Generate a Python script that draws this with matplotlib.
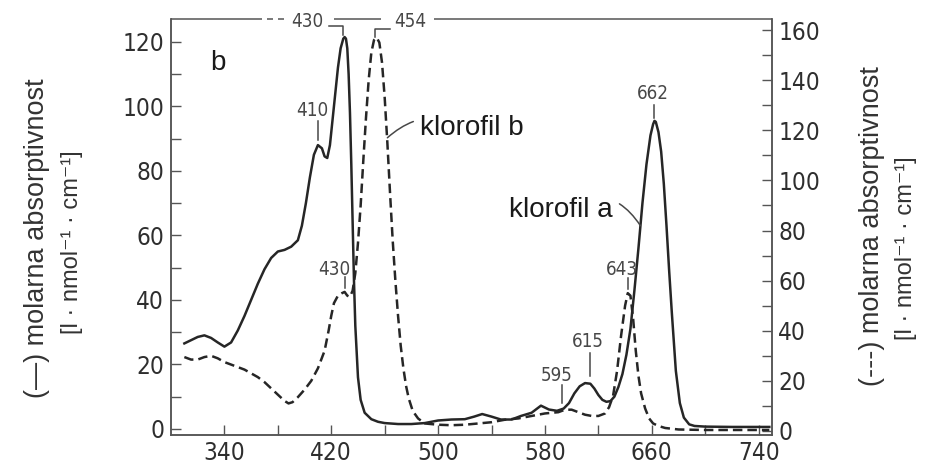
import numpy as np
import matplotlib
matplotlib.use("Agg")
import matplotlib.pyplot as plt
from matplotlib.font_manager import FontProperties

# Absorption spectra of chlorophyll a (left axis) and chlorophyll b (right axis)
wl_a = [310, 315, 320, 325, 330, 335, 340, 345, 350, 355, 360, 365, 370, 375,
        380, 385, 390, 395, 398, 401, 404, 407, 410, 413, 415, 417, 419, 421,
        423, 425, 427, 429, 430, 431, 432, 433, 434, 435, 436, 437, 438, 440,
        442, 445, 450, 455, 460, 470, 480, 490, 500, 510, 520, 527, 533, 540,
        547, 555, 562, 570, 577, 583, 589, 594, 598, 602, 606, 610, 614, 617,
        620, 623, 626, 629, 632, 635, 638, 641, 644, 647, 650, 653, 656, 659,
        661, 662, 663, 665, 667, 669, 671, 673, 675, 678, 681, 684, 688, 692,
        700, 720, 748]
abs_a = [26.5, 27.5, 28.5, 29.0, 28.2, 26.8, 25.5, 26.8, 30.5, 35.0, 40.0,
         45.0, 49.5, 53.0, 55.0, 55.5, 56.5, 58.5, 63.0, 70.0, 78.0, 85.0,
         88.0, 87.0, 84.5, 84.0, 88.0, 96.0, 104.0, 112.0, 118.0, 121.0,
         121.5, 121.0, 118.0, 110.0, 98.0, 82.0, 64.0, 46.0, 32.0, 16.0, 9.0,
         5.0, 3.0, 2.2, 1.8, 1.5, 1.5, 1.8, 2.6, 2.9, 3.0, 3.8, 4.6, 3.8, 2.9,
         2.9, 4.0, 5.0, 7.2, 6.0, 5.6, 6.3, 8.0, 11.0, 13.2, 14.2, 14.0, 12.5,
         10.5, 9.0, 8.4, 8.6, 10.0, 13.0, 17.0, 23.0, 31.0, 43.0, 56.0, 70.0,
         82.0, 91.0, 94.5, 95.5, 95.2, 92.0, 86.0, 76.0, 63.0, 49.0, 36.0, 18.0,
         8.0, 3.5, 1.4, 0.9, 0.7, 0.6, 0.6]

wl_b = [310, 315, 320, 325, 330, 335, 340, 345, 350, 355, 360, 365, 370, 375,
        380, 385, 388, 391, 395, 400, 405, 410, 415, 418, 420, 422, 425, 428,
        430, 432, 434, 436, 438, 440, 442, 444, 446, 448, 450, 452, 454, 456,
        458, 460, 462, 464, 466, 468, 470, 472, 474, 476, 478, 481, 485, 490,
        500, 510, 520, 530, 540, 550, 560, 570, 580, 590, 595, 600, 605, 610,
        615, 620, 625, 628, 631, 634, 637, 640, 642, 644, 646, 648, 650, 652,
        655, 658, 661, 665, 670, 680, 700, 748]
abs_b = [29.5, 28.5, 28.5, 29.5, 30.0, 29.0, 27.5, 26.5, 25.5, 24.5, 23.0,
         21.5, 19.5, 17.0, 14.5, 12.0, 11.0, 11.5, 13.5, 16.5, 20.0, 25.0,
         32.0, 40.0, 46.0, 51.0, 54.0, 55.0, 55.5, 54.0, 53.5, 56.0, 63.0,
         75.0, 90.0, 108.0, 125.0, 140.0, 151.0, 156.0, 157.0, 155.0, 147.0,
         133.0, 115.0, 95.0, 76.0, 60.0, 46.0, 34.0, 25.0, 18.0, 13.0, 8.0,
         5.0, 3.0, 2.5, 2.3, 2.5, 3.0, 3.5, 4.5, 5.0, 6.0, 7.0, 7.5, 8.5, 8.5,
         7.5, 6.5, 6.0, 6.0, 7.0, 9.5, 14.0, 24.0, 38.0, 50.0, 55.0, 54.0,
         45.0, 32.0, 22.0, 15.0, 9.0, 5.0, 3.0, 2.0, 1.2, 0.6, 0.4, 0.4]

x_ticks = [340, 420, 500, 580, 660, 740]
x_minor = [380, 460, 540, 620, 700]
left_ticks = [0, 20, 40, 60, 80, 100, 120]
right_ticks = [0, 20, 40, 60, 80, 100, 120, 140, 160]

# peak labels of chlorophyll a: (label, wavelength)
peaks_a = [("410", 410), ("662", 662), ("615", 614), ("595", 593)]
# peak labels of chlorophyll b
peaks_b = [("643", 642), ("430", 430)]

# leader layout per label: (tick start, tick end, text bottom, text x shift)
leader_a = {"410": (1.5, 7.5, 7.8, -4.0), "662": (1.0, 4.8, 5.4, -1.5),
            "615": (2.5, 9.5, 10.2, -1.5), "595": (2.0, 7.5, 7.5, -4.5)}
leader_b = {"643": (1.5, 6.0, 5.5, -4.5), "430": (1.5, 6.0, 5.0, -7.5)}

INK = "#262626"
GRAY = "#484848"
TXT = ["Liberation Sans", "DejaVu Sans"]
tick_fp = FontProperties(family="DejaVu Sans", stretch="condensed", size=17.5)
num_fp = FontProperties(family="DejaVu Sans", stretch="condensed", size=13.5)

fig = plt.figure(figsize=(9.25, 4.68), dpi=100)
W, H = 925, 468
ax = fig.add_axes([171 / W, 1 - 435 / H, 601 / W, 416 / H])
ax2 = ax.twinx()

ax.set_xlim(300, 750)
ax.set_ylim(-1.9, 127.1)
ax2.set_ylim(-1.6, 164.4)

ax.plot(wl_a, abs_a, color=INK, lw=1.8, solid_joinstyle="round")
ax2.plot(wl_b, abs_b, color=INK, lw=1.8, linestyle=(0, (3.8, 2.0)))

# axes frame
for a in (ax, ax2):
    for s in a.spines.values():
        s.set_color("#555555")
        s.set_linewidth(1.1)
    a.spines["top"].set_visible(False)

ax.set_xticks(x_ticks)
ax.set_xticks(x_minor, minor=True)
ax.set_yticks(left_ticks)
ax.set_yticks(np.arange(10, 130, 20), minor=True)
ax2.set_yticks(right_ticks)
ax2.set_yticks(np.arange(10, 170, 20), minor=True)
ax.tick_params(axis="both", which="both", direction="in", length=7.5,
               width=1.0, color="#555555", labelcolor="#2e2e2e")
ax.tick_params(axis="y", which="both", left=True, right=False, pad=5)
ax.tick_params(axis="x", which="both", top=False, pad=4)
ax2.tick_params(axis="y", which="both", direction="in", length=7.5,
                width=1.0, color="#555555", labelcolor="#2e2e2e", pad=4.5)
for lab in ax.get_xticklabels() + ax.get_yticklabels() + ax2.get_yticklabels():
    lab.set_fontproperties(tick_fp)

# top border, broken around the peak labels
top_segments = [(0.0, 0.151), (0.160, 0.170), (0.178, 0.188),
                (0.272, 0.350), (0.437, 1.0)]
for x0, x1 in top_segments:
    ax.plot([x0, x1], [1.0, 1.0], transform=ax.transAxes, color="#555555",
            lw=1.1, clip_on=False, solid_capstyle="butt")

tr_top = ax.get_xaxis_transform()
ax.text(402.2, 0.995, "430", transform=tr_top, ha="center", va="center",
        fontproperties=num_fp, color=GRAY, clip_on=False)
ax.text(479.0, 0.995, "454", transform=tr_top, ha="center", va="center",
        fontproperties=num_fp, color=GRAY, clip_on=False)

# bracket from "430" down to the chlorophyll a Soret peak
pa = max(abs_a[wl_a.index(429):wl_a.index(432)])
ax.plot([418.3, 429.0, 429.0], [pa + 3.3, pa + 3.3, pa + 0.6],
        color=GRAY, lw=1.1, clip_on=False)
# bracket from "454" down to the chlorophyll b Soret peak
pb = max(abs_b)
ax2.plot([464.0, 452.8, 452.8], [pb + 3.6, pb + 3.6, pb + 0.2],
         color=GRAY, lw=1.1, clip_on=False)

# labelled peaks of chlorophyll a
for lab, w in peaks_a:
    v = float(np.interp(w, wl_a, abs_a))
    t0, t1, tb, dx = leader_a[lab]
    ax.plot([w, w], [v + t0, v + t1], color=GRAY, lw=1.1)
    ax.text(w + dx, v + tb, lab, ha="center", va="bottom",
            fontproperties=num_fp, color=GRAY)

# labelled peaks of chlorophyll b
for lab, w in peaks_b:
    v = float(np.interp(w, wl_b, abs_b))
    t0, t1, tb, dx = leader_b[lab]
    ax2.plot([w, w], [v + t0, v + t1], color=GRAY, lw=1.1)
    ax2.text(w + dx, v + tb, lab, ha="center", va="bottom",
             fontproperties=num_fp, color=GRAY)

# panel letter and curve names
ax.text(0.078, 0.895, "b", transform=ax.transAxes, family=TXT, fontsize=20,
        color="#1a1a1a", ha="center", va="center")

xb = 462.0
ax2.annotate("klorofil b", xy=(xb, float(np.interp(xb, wl_b, abs_b)) + 2),
             xytext=(486.5, 121.0), family=TXT, fontsize=20, color="#1a1a1a",
             ha="left", va="center",
             arrowprops=dict(arrowstyle="-", color=GRAY, lw=1.1,
                             shrinkA=3, shrinkB=0,
                             connectionstyle="arc3,rad=0.35"))
xa = 651.5
ax.annotate("klorofil a", xy=(xa, float(np.interp(xa, wl_a, abs_a))),
            xytext=(631.0, 68.0), family=TXT, fontsize=20, color="#1a1a1a",
            ha="right", va="center",
            arrowprops=dict(arrowstyle="-", color=GRAY, lw=1.1,
                            shrinkA=3, shrinkB=0,
                            connectionstyle="arc3,rad=-0.5"))

# axis titles
unit = "[l · nmol⁻¹ · cm⁻¹]"
fig.text(37 / W, 1 - 238 / H, "(—) molarna absorptivnost", rotation=90,
         family=TXT, fontsize=19.5, color="#333333", ha="center", va="center")
fig.text(72 / W, 1 - 242 / H, unit, rotation=90, family=TXT, fontsize=17,
         color="#333333", ha="center", va="center")
fig.text(872 / W, 1 - 226 / H, "(---) molarna absorptivnost", rotation=90,
         family=TXT, fontsize=19.5, color="#333333", ha="center", va="center")
fig.text(906 / W, 1 - 248 / H, unit, rotation=90, family=TXT, fontsize=17,
         color="#333333", ha="center", va="center")

fig.savefig("out.png", dpi=100, facecolor="white")
